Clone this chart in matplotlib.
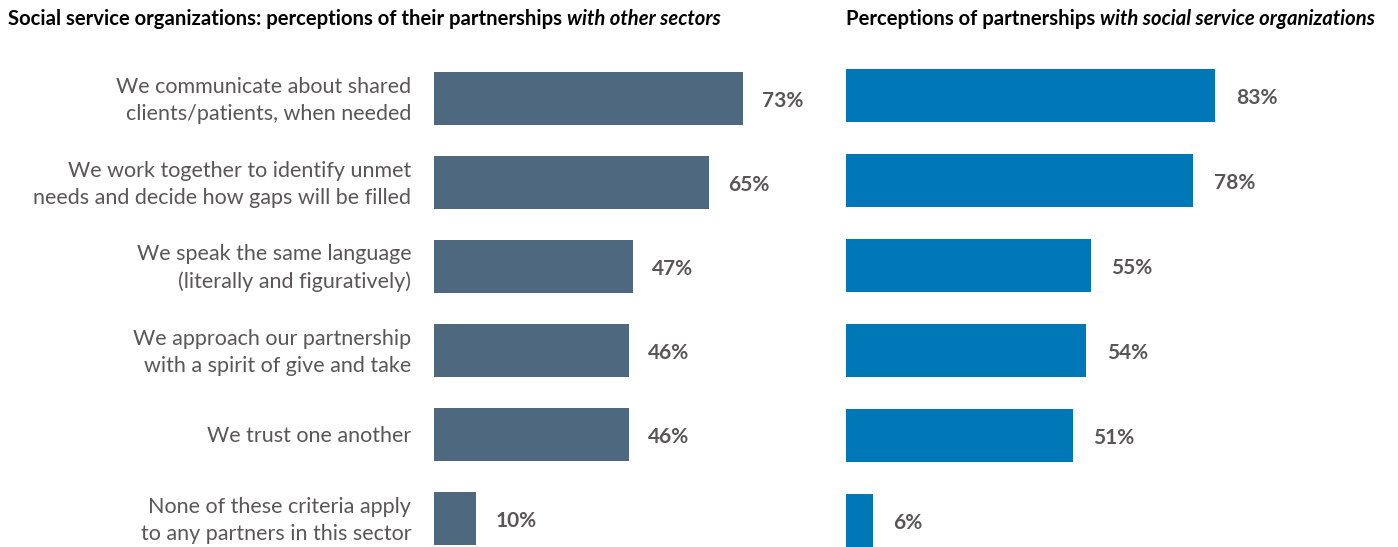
import matplotlib
matplotlib.use("Agg")
import matplotlib.pyplot as plt

plt.rcParams['font.family'] = ['Lato', 'DejaVu Sans']

categories = [
    "We communicate about shared\nclients/patients, when needed",
    "We work together to identify unmet\nneeds and decide how gaps will be filled",
    "We speak the same language\n(literally and figuratively)",
    "We approach our partnership\nwith a spirit of give and take",
    "We trust one another",
    "None of these criteria apply\nto any partners in this sector",
]
other_sectors = [73, 65, 47, 46, 46, 10]
with_social = [83, 78, 55, 54, 51, 6]

left_color = "#4D687F"
right_color = "#0077B6"
label_grey = "#5A5657"

W, H = 1398, 547
fig = plt.figure(figsize=(W / 100, H / 100), dpi=100)


def px_axes(x0, y_top, width, height):
    return fig.add_axes([x0 / W, 1 - (y_top + height) / H, width / W, height / H])


def draw_bars(ax, values, color, pitch):
    ypos = range(len(values))
    ax.barh(ypos, values, height=53 / pitch, color=color)
    for y, v in zip(ypos, values):
        ax.text(v + 4.6, y + 0.03, f"{v}%", va="center", ha="left",
                fontsize=15, fontweight="bold", color=label_grey)
    ax.set_xlim(0, 100)
    ax.set_ylim(len(values) - 0.5, -0.5)
    ax.axis("off")


# left panel: 4.23 px per percent, 84 px between bars
ax1 = px_axes(434, 56.5, 423, 504)
draw_bars(ax1, other_sectors, left_color, 84)
for y, label in enumerate(categories):
    ax1.text(-5.4, y + 0.02, label, ha="right", va="center", fontsize=15.5,
             color=label_grey, linespacing=1.45)

# right panel: 4.45 px per percent, 85 px between bars
ax2 = px_axes(846, 53, 445, 510)
draw_bars(ax2, with_social, right_color, 85)


def two_part_title(x, y, plain, italic):
    t = fig.text(x / W, 1 - y / H, plain, fontsize=14.6, fontweight="bold",
                 color="black", va="center", ha="left")
    fig.canvas.draw()
    ext = t.get_window_extent()
    fig.text((ext.x1 + 5) / W, 1 - y / H, italic, fontsize=14.6,
             fontweight="bold", fontstyle="italic", color="black",
             va="center", ha="left")


two_part_title(8, 19, "Social service organizations: perceptions of their partnerships", "with other sectors")
two_part_title(846, 19, "Perceptions of partnerships", "with social service organizations")

fig.savefig("out.png", dpi=100)
